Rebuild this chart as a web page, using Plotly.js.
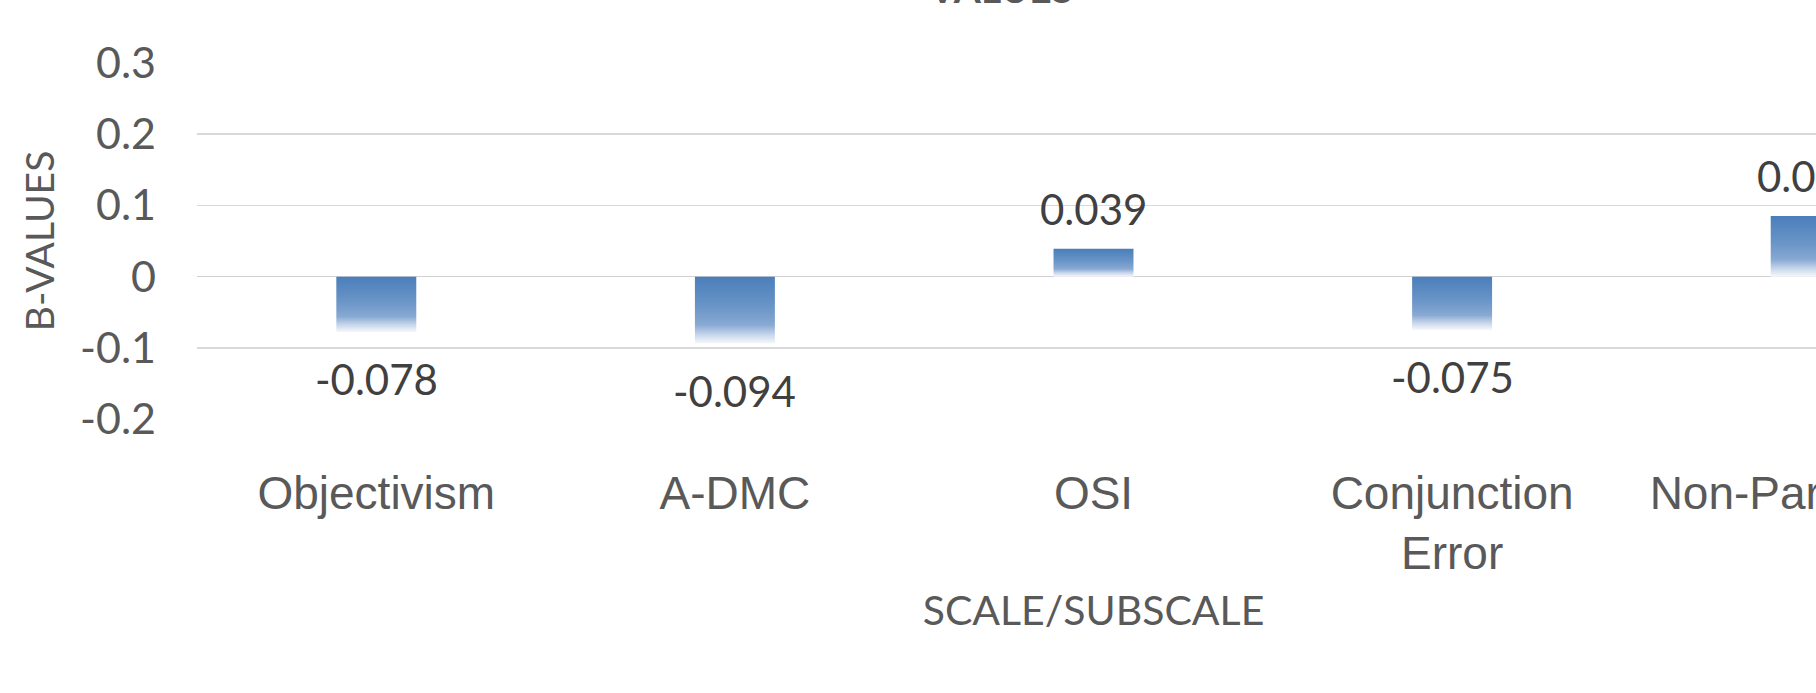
<!DOCTYPE html>
<html>
<head>
<meta charset="utf-8">
<script src="https://cdn.plot.ly/plotly-3.0.1.min.js"></script>
<style>
  html, body { margin: 0; padding: 0; background: #ffffff; overflow: hidden; width: 1816px; height: 693px; }
  #chart { width: 2000px; height: 693px; }
</style>
</head>
<body>
<div id="chart"></div>
<script>
// ---- data ----
const chartTitle = "VALUES";
const categories = ["Objectivism", "A-DMC", "OSI", "Conjunction<br>Error", "Non-Parametric"];
const bValues = [-0.078, -0.094, 0.039, -0.075, 0.085];
const valueLabels = ["-0.078", "-0.094", "0.039", "-0.075", "0.085"];
const yTickValues = [-0.2, -0.1, 0, 0.1, 0.2, 0.3];
const yTickLabels = ["-0.2", "-0.1", "0", "0.1", "0.2", "0.3"];

const labelFont = { family: "Lato, 'Open Sans', sans-serif", size: 42, color: "#404040" };

const annotations = categories.map((c, i) => ({
  x: c, y: bValues[i], xref: "x", yref: "y",
  text: valueLabels[i], showarrow: false,
  xanchor: "center",
  yanchor: bValues[i] >= 0 ? "bottom" : "top",
  yshift: bValues[i] >= 0 ? 13 : -20,
  font: labelFont
}));

// chart title (partly outside the top edge, as in the reference)
annotations.push({
  xref: "paper", yref: "paper",
  x: (1000 - 197) / (2000 - 197 - 10), y: 1,
  xanchor: "center", yanchor: "bottom", yshift: 49,
  text: "<b>" + chartTitle + "</b>", showarrow: false,
  font: { family: "Lato, 'Open Sans', sans-serif", size: 39, color: "#595959" }
});

const trace = {
  type: "bar",
  x: categories,
  y: bValues,
  width: 0.223,
  marker: { color: "#4a7ebb", line: { width: 0 } },
  hoverinfo: "none"
};

const layout = {
  width: 2000, height: 693,
  margin: { l: 197, r: 10, t: 62, b: 273, pad: 0 },
  paper_bgcolor: "#ffffff", plot_bgcolor: "#ffffff",
  showlegend: false,
  xaxis: {
    type: "category",
    range: [-0.5, 4.5],
    showgrid: false, zeroline: false, showline: false,
    ticks: "", tickangle: 0,
    ticklabelstandoff: 42,
    tickfont: { family: "'Liberation Sans', Arial, sans-serif", size: 46, color: "#595959" },
    title: {
      text: "SCALE/SUBSCALE",
      font: { family: "Lato, 'Open Sans', sans-serif", size: 41, color: "#595959" },
      standoff: 18
    },
    automargin: false,
    fixedrange: true
  },
  yaxis: {
    range: [-0.2012, 0.3012],
    tickvals: yTickValues, ticktext: yTickLabels,
    showgrid: true, gridcolor: "#d9d9d9", gridwidth: 1.3,
    zeroline: true, zerolinecolor: "#d0d0d0", zerolinewidth: 1.6,
    showline: false, ticks: "",
    ticklabelstandoff: 40,
    tickfont: { family: "Lato, 'Open Sans', sans-serif", size: 43, color: "#595959" },
    title: {
      text: "B-VALUES",
      font: { family: "Lato, 'Open Sans', sans-serif", size: 39, color: "#595959" },
      standoff: 13
    },
    automargin: false,
    fixedrange: true
  },
  annotations: annotations
};

function applyGradient(gd) {
  const svg = gd.querySelector("svg.main-svg");
  if (!svg) return;
  let defs = svg.querySelector("defs");
  if (!defs) {
    defs = document.createElementNS("http://www.w3.org/2000/svg", "defs");
    svg.insertBefore(defs, svg.firstChild);
  }
  if (!svg.querySelector("#barGrad")) {
    const g = document.createElementNS("http://www.w3.org/2000/svg", "linearGradient");
    g.setAttribute("id", "barGrad");
    g.setAttribute("x1", "0"); g.setAttribute("y1", "0");
    g.setAttribute("x2", "0"); g.setAttribute("y2", "1");
    [["0", "#4a7ebb"], ["0.45", "#6a95c7"], ["0.72", "#88a9d3"], ["0.86", "#c4d4ea"], ["1", "#f7f9fc"]]
      .forEach(([o, c]) => {
        const s = document.createElementNS("http://www.w3.org/2000/svg", "stop");
        s.setAttribute("offset", o); s.setAttribute("stop-color", c);
        g.appendChild(s);
      });
    defs.appendChild(g);
  }
  gd.querySelectorAll(".barlayer .point path").forEach(p => {
    p.style.fill = "url(#barGrad)";
    p.style.fillOpacity = 1;
  });
}

const gd = document.getElementById("chart");
Plotly.newPlot(gd, [trace], layout, { staticPlot: true, displayModeBar: false }).then(() => {
  applyGradient(gd);
  gd.on("plotly_afterplot", () => applyGradient(gd));
});
</script>
</body>
</html>
